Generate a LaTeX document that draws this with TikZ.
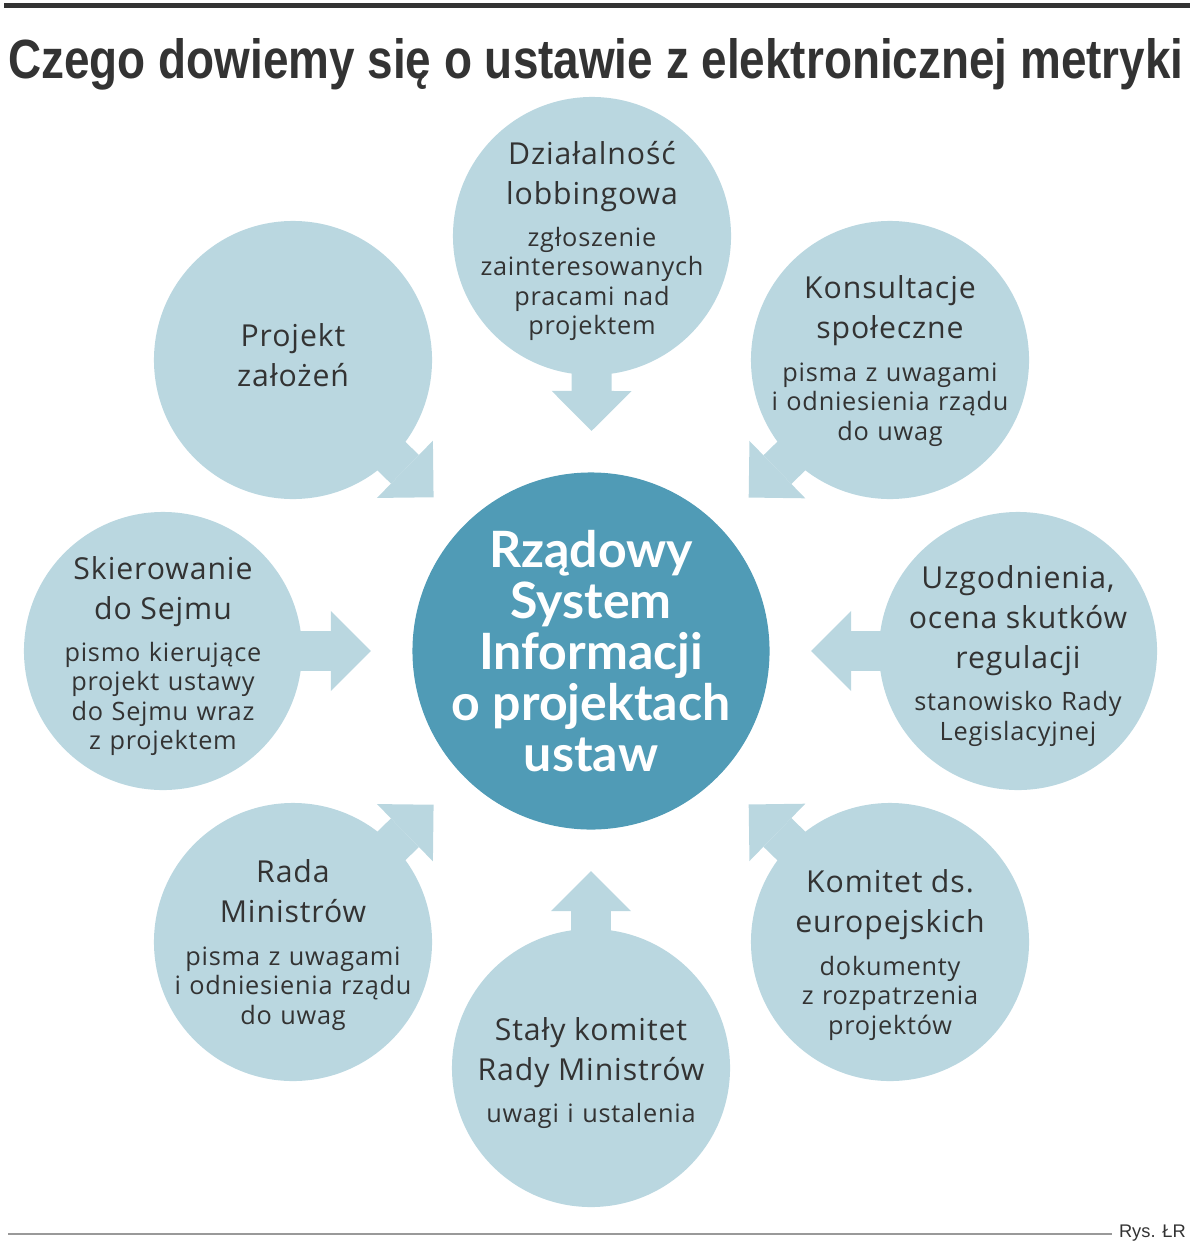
\documentclass[tikz,border=0pt]{standalone}
\usepackage{fontspec}
\setmainfont{Open Sans}
\newfontfamily\stagefamily[LetterSpace=3]{Open Sans}
\newfontfamily\hubfamily{Lato}
\newfontfamily\titlefamily{Liberation Sans}
\newcommand{\headfont}{\stagefamily\fontsize{21.5pt}{28.5pt}\selectfont}
\newcommand{\notefont}{\stagefamily\fontsize{18pt}{21pt}\selectfont}
\newcommand{\stagetxt}[2]{{\headfont #1\par}\vspace{9pt}#2}
\usetikzlibrary{arrows.meta, calc}
\definecolor{stagebg}{RGB}{186,215,224}
\definecolor{hubbg}{RGB}{80,155,182}
\definecolor{ink}{RGB}{51,51,51}

\begin{document}
\begin{tikzpicture}[
        x=0.025cm, y=-0.025cm,
        stage/.style={circle, fill=stagebg, minimum size=6.95cm, inner sep=0pt},
        hub/.style={circle, fill=hubbg, minimum size=8.925cm, inner sep=0pt},
        stage-text/.style={text width=7cm, align=center, font=\notefont, text=ink,
            inner sep=0pt, yshift=-0.125cm, execute at begin node=\parindent0pt},
        hub-text/.style={align=center, text=white,
            font=\hubfamily\bfseries\fontsize{35.6pt}{36.3pt}\selectfont},
        flow/.style={draw=stagebg, line width=1cm,
            -{Triangle[length=1cm, width=2cm, line width=0pt]}},
    ]
    \useasboundingbox (0,0) rectangle (1200,1255);

    % header and footer
    \draw[ink, line width=0.125cm] (4,6) -- (1190,6);
    \node[anchor=base west, inner sep=0pt, text=ink] (title) at (8,78)
        {\resizebox{29.375cm}{1.0cm}{\titlefamily\bfseries Czego dowiemy się o ustawie z elektronicznej metryki}};
    \node[anchor=east, inner sep=0pt, text=ink, font=\titlefamily\fontsize{13pt}{15pt}\selectfont] (credit) at (1186,1233) {Rys. ŁR};
    \draw[gray!80, line width=0.05cm] (8,1234) -- (1112,1234);

    % circles
    \node[hub] (hub) at (591,651) {};
    \node[stage] (lobby) at (592,236) {};
    \node[stage] (zalozenia) at (293,360) {};
    \node[stage] (konsult) at (890,360) {};
    \node[stage] (uzgod) at (1018,651) {};
    \node[stage] (komitet) at (890,942) {};
    \node[stage] (staly) at (591,1068) {};
    \node[stage] (rada) at (293,942) {};
    \node[stage] (sejm) at (163,651) {};

    % arrows into the hub
    \foreach \n in {lobby, zalozenia, konsult, uzgod, komitet, staly, rada, sejm} {
        \coordinate (\n-tip) at ($(hub.center)!5.5cm!(\n.center)$);
        \draw[flow] (\n.center) -- (\n-tip);
    }

    % texts
    \node[hub-text] (hub-t) at (hub) {Rządowy\\System\\Informacji\\o projektach\\ustaw};
    \node[stage-text] (lobby-t) at (lobby)
        {\stagetxt{Działalność\\lobbingowa}{zgłoszenie\\zainteresowanych\\pracami nad\\projektem}};
    \node[stage-text, yshift=0.25cm] (zalozenia-t) at (zalozenia) {{\headfont Projekt\\założeń\par}};
    \node[stage-text, yshift=0.1cm] (konsult-t) at (konsult)
        {\stagetxt{Konsultacje\\społeczne}{pisma z uwagami\\i odniesienia rządu\\do uwag}};
    \node[stage-text] (uzgod-t) at (uzgod)
        {\stagetxt{Uzgodnienia,\\ocena skutków\\regulacji}{stanowisko Rady\\Legislacyjnej}};
    \node[stage-text, yshift=-0.2cm] (komitet-t) at (komitet)
        {\stagetxt{Komitet ds.\\europejskich}{dokumenty\\z rozpatrzenia\\projektów}};
    \node[stage-text] (staly-t) at (staly)
        {\stagetxt{Stały komitet\\Rady Ministrów}{uwagi i ustalenia}};
    \node[stage-text, yshift=0.05cm] (rada-t) at (rada)
        {\stagetxt{Rada\\Ministrów}{pisma z uwagami\\i odniesienia rządu\\do uwag}};
    \node[stage-text] (sejm-t) at (sejm)
        {\stagetxt{Skierowanie\\do Sejmu}{pismo kierujące\\projekt ustawy\\do Sejmu wraz\\z projektem}};
\end{tikzpicture}
\end{document}
